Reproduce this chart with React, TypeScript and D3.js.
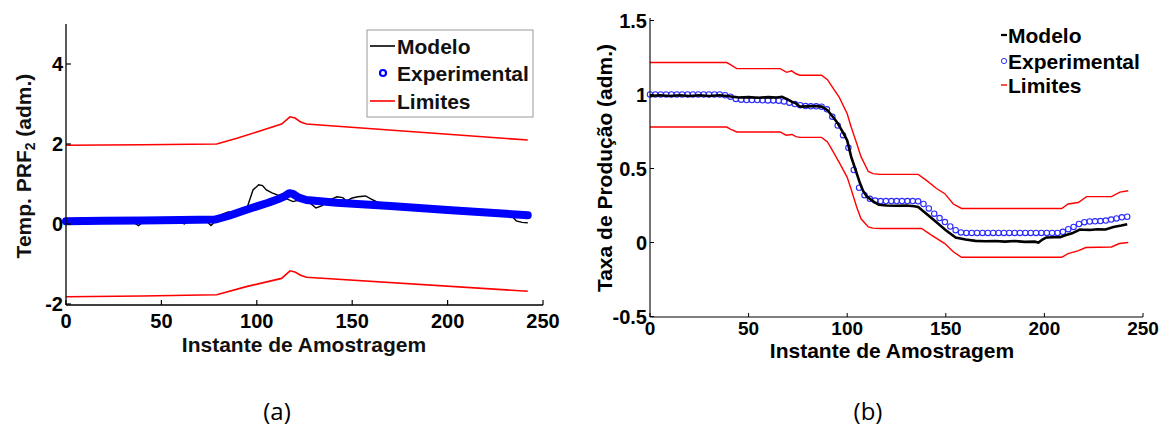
import React from "react";
import * as d3 from "d3";

// ---------- Panel (a) data: [instant, value] ----------
const modeloA: [number, number][] = [
  [0, 0.06], [5, 0.05], [10, 0.07], [15, 0.06], [20, 0.08], [25, 0.07], [30, 0.09], [35, 0.05],
  [38, -0.04], [41, 0.07], [45, 0.08], [50, 0.09], [55, 0.08], [58, 0.1], [62, 0.0], [65, 0.09],
  [70, 0.11], [73, 0.1], [76, -0.04], [79, 0.1], [82, 0.25], [85, 0.3], [88, 0.28], [92, 0.39],
  [95, 0.42], [98, 0.85], [101, 0.98], [103, 0.96], [105, 0.85], [108, 0.78], [111, 0.72],
  [113, 0.67], [116, 0.62], [119, 0.56], [122, 0.6], [125, 0.6], [128, 0.52], [131, 0.4],
  [134, 0.45], [138, 0.6], [142, 0.68], [145, 0.66], [147, 0.58], [150, 0.65], [153, 0.68],
  [157, 0.7], [160, 0.62], [163, 0.55], [168, 0.5], [175, 0.47], [185, 0.42], [195, 0.36],
  [200, 0.32], [205, 0.3], [209, 0.26], [212, 0.28], [217, 0.25], [220, 0.28], [225, 0.22],
  [230, 0.22], [234, 0.18], [236, 0.08], [239, 0.04], [242, 0.03],
];
const experimentalA: [number, number][] = [
  [0, 0.07], [20, 0.08], [40, 0.09], [60, 0.1], [78, 0.11], [85, 0.2], [93, 0.33], [100, 0.44],
  [106, 0.53], [111, 0.62], [114, 0.68], [117, 0.77], [119, 0.75], [122, 0.66], [126, 0.6],
  [142, 0.53], [170, 0.45], [200, 0.35], [242, 0.22],
];
const limiteSupA: [number, number][] = [
  [0, 1.97], [40, 1.98], [79, 2.0], [90, 2.15], [100, 2.3], [113, 2.5], [117.4, 2.68],
  [120, 2.65], [123, 2.55], [126, 2.5], [242, 2.1],
];
const limiteInfA: [number, number][] = [
  [0, -1.82], [40, -1.8], [79, -1.77], [95, -1.56], [113, -1.36], [117.4, -1.17],
  [120, -1.2], [123, -1.28], [126, -1.33], [242, -1.68],
];
const xTicksA = [0, 50, 100, 150, 200, 250];
const yTicksA = [-2, 0, 2, 4];

// ---------- Panel (b) data ----------
const modeloB: [number, number][] = [
  [0, 0.99], [5, 0.995], [10, 0.99], [15, 0.995], [20, 0.99], [25, 0.995], [30, 0.99], [35, 0.995],
  [39, 0.99], [42, 0.985], [45, 0.98], [50, 0.982], [55, 0.978], [60, 0.982], [64, 0.98],
  [67, 0.985], [70, 0.965], [72, 0.95], [74, 0.94], [76, 0.918], [80, 0.92], [84, 0.922],
  [87, 0.918], [90, 0.894], [93, 0.845], [95, 0.81], [98, 0.74], [100, 0.69], [102, 0.58],
  [104, 0.5], [106.5, 0.4], [108, 0.35], [110, 0.31], [113, 0.28], [116, 0.255], [120, 0.25],
  [125, 0.248], [130, 0.25], [134, 0.245], [136, 0.24], [140, 0.196], [145, 0.14], [150, 0.083],
  [155, 0.034], [160, 0.02], [165, 0.011], [170, 0.008], [175, 0.01], [180, 0.006], [185, 0.01],
  [190, 0.004], [195, 0.006], [197, 0.0], [199, 0.02], [201, 0.034], [205, 0.035], [208, 0.036],
  [211, 0.05], [214, 0.062], [218, 0.088], [220, 0.086], [223, 0.085], [227, 0.09], [231, 0.088],
  [235, 0.105], [239, 0.115], [242, 0.124],
];
// experimental samples (b), evenly spaced instants from 0 to 242
const experimentalB: number[] = [
  1.0, 1.0, 1.0, 1.0, 1.0, 1.0, 1.0, 1.0, 1.0, 1.0, 1.0, 1.0, 1.0, 1.0, 0.995, 0.985, 0.97,
  0.965, 0.963, 0.962, 0.962, 0.961, 0.96, 0.96, 0.958, 0.953, 0.945, 0.935, 0.928, 0.922,
  0.92, 0.92, 0.918, 0.9, 0.85, 0.79, 0.725, 0.64, 0.49, 0.37, 0.32, 0.295, 0.283, 0.28, 0.28,
  0.28, 0.28, 0.28, 0.28, 0.28, 0.278, 0.26, 0.23, 0.195, 0.165, 0.138, 0.108, 0.083, 0.068,
  0.065, 0.065, 0.065, 0.065, 0.065, 0.065, 0.065, 0.065, 0.065, 0.065, 0.065, 0.065, 0.065,
  0.065, 0.065, 0.065, 0.065, 0.065, 0.072, 0.09, 0.105, 0.125, 0.137, 0.142, 0.143, 0.145,
  0.148, 0.155, 0.163, 0.17, 0.174,
];
const lastInstantB = 242;
const limiteSupB: [number, number][] = [
  [0, 1.216], [38.9, 1.216], [41, 1.2], [44, 1.175], [66, 1.175], [69.3, 1.15], [71.8, 1.16],
  [74, 1.14], [76, 1.13], [87, 1.13], [90, 1.1], [93, 1.04], [96, 0.98], [100, 0.87], [102, 0.78],
  [104.8, 0.67], [107, 0.58], [110.7, 0.48], [113, 0.465], [116.6, 0.46], [136, 0.46],
  [140.2, 0.42], [145.3, 0.365], [149.5, 0.33], [153.8, 0.26], [158, 0.23], [208.8, 0.23],
  [212, 0.26], [217.2, 0.27], [221.4, 0.31], [234, 0.31], [238.3, 0.34], [242.5, 0.35],
];
const limiteInfB: [number, number][] = [
  [0, 0.78], [38.9, 0.78], [41, 0.765], [44, 0.747], [66, 0.747], [69, 0.725], [72, 0.73],
  [74, 0.715], [76, 0.71], [87, 0.71], [90, 0.68], [93, 0.61], [96, 0.54], [100, 0.44],
  [102, 0.36], [104.8, 0.24], [107, 0.16], [110.7, 0.105], [113, 0.097], [116.6, 0.095],
  [137.7, 0.095], [142.7, 0.05], [149.5, -0.007], [153.8, -0.063], [158, -0.1], [208.8, -0.1],
  [212, -0.075], [217, -0.057], [221, -0.034], [234, -0.03], [238, -0.007], [242.5, 0.0],
];
const xTicksB = [0, 50, 100, 150, 200, 250];
const yTicksB = [-0.5, 0, 0.5, 1, 1.5];

const legendLabels = ["Modelo", "Experimental", "Limites"];

const FONT = "'Liberation Sans', Arial, Helvetica, sans-serif";
const BLUE = "#0000ff";
const RED = "#ff0000";

export default function App() {
  // ----- scales (a)
  const xA = d3.scaleLinear().domain([0, 250]).range([66, 543]);
  const yA = d3.scaleLinear().domain([-2, 5]).range([304, 24]);
  const lineA = d3
    .line<[number, number]>()
    .x((d) => xA(d[0]))
    .y((d) => yA(d[1]));

  // ----- scales (b)
  const xB = d3.scaleLinear().domain([0, 250]).range([650, 1143]);
  const yB = d3.scaleLinear().domain([-0.5, 1.5]).range([316.5, 20.5]);
  const lineB = d3
    .line<[number, number]>()
    .x((d) => xB(d[0]))
    .y((d) => yB(d[1]));
  const stepB = lastInstantB / (experimentalB.length - 1);

  const axA = { x0: 66, y0: 305 };
  const axB = { x0: 650, y0: 317 };

  return (
    <svg
      width={1165}
      height={428}
      viewBox="0 0 1165 428"
      style={{ position: "absolute", left: 0, top: 0, background: "#fff" }}
      fontFamily={FONT}
    >
      <rect x={0} y={0} width={1165} height={428} fill="#fff" />

      {/* ================= Panel (a) ================= */}
      <g>
        <path d={lineA(limiteSupA) || ""} fill="none" stroke={RED} strokeWidth={1.6} />
        <path d={lineA(limiteInfA) || ""} fill="none" stroke={RED} strokeWidth={1.6} />
        <path d={lineA(modeloA) || ""} fill="none" stroke="#000" strokeWidth={1.4} />
        <path
          d={lineA(experimentalA) || ""}
          fill="none"
          stroke={BLUE}
          strokeWidth={8}
          strokeLinecap="round"
          strokeLinejoin="round"
        />
        {/* axes */}
        <line x1={axA.x0} x2={axA.x0} y1={24} y2={axA.y0} stroke="#000" strokeWidth={1.3} />
        <line x1={axA.x0} x2={543} y1={axA.y0} y2={axA.y0} stroke="#000" strokeWidth={1.3} />
        {yTicksA.map((t) => (
          <g key={"ya" + t}>
            <line x1={axA.x0} x2={axA.x0 + 5} y1={yA(t)} y2={yA(t)} stroke="#000" strokeWidth={1.2} />
            <text
              x={63}
              y={yA(t)}
              textAnchor="end"
              dominantBaseline="central"
              fontSize={20}
              fontWeight="bold"
            >
              {t}
            </text>
          </g>
        ))}
        {xTicksA.map((t) => (
          <g key={"xa" + t}>
            <line x1={xA(t)} x2={xA(t)} y1={axA.y0} y2={axA.y0 - 5} stroke="#000" strokeWidth={1.2} />
            <text
              x={xA(t)}
              y={321}
              textAnchor="middle"
              dominantBaseline="central"
              fontSize={20}
              fontWeight="bold"
            >
              {t}
            </text>
          </g>
        ))}
        <text
          x={304}
          y={344}
          textAnchor="middle"
          dominantBaseline="central"
          fontSize={21}
          fontWeight="bold"
          fill="#111"
        >
          Instante de Amostragem
        </text>
        <text
          transform="translate(23,166) rotate(-90)"
          textAnchor="middle"
          dominantBaseline="central"
          fontSize={21}
          fontWeight="bold"
          fill="#111"
        >
          Temp. PRF
          <tspan fontSize={14} dy={7}>
            2
          </tspan>
          <tspan dy={-7}> (adm.)</tspan>
        </text>
        {/* legend (a) */}
        <rect x={367} y={30} width={166} height={87} fill="#fff" stroke="#999" strokeWidth={1} />
        <line x1={370} x2={395} y1={46} y2={46} stroke="#000" strokeWidth={1.6} />
        <circle cx={383} cy={73} r={3} fill="none" stroke={BLUE} strokeWidth={2.2} />
        <line x1={370} x2={395} y1={101} y2={101} stroke={RED} strokeWidth={1.6} />
        {legendLabels.map((l, i) => (
          <text
            key={"la" + l}
            x={397}
            y={[46, 73, 101][i]}
            dominantBaseline="central"
            fontSize={21}
            fontWeight="bold"
            fill="#111"
          >
            {l}
          </text>
        ))}
        <text
          x={277}
          y={410}
          textAnchor="middle"
          dominantBaseline="central"
          fontSize={24}
          fontFamily="'Open Sans', Lato, sans-serif"
        >
          (a)
        </text>
      </g>

      {/* ================= Panel (b) ================= */}
      <g>
        <path d={lineB(limiteSupB) || ""} fill="none" stroke={RED} strokeWidth={1.4} />
        <path d={lineB(limiteInfB) || ""} fill="none" stroke={RED} strokeWidth={1.4} />
        {experimentalB.map((v, i) => (
          <circle
            key={"eb" + i}
            cx={xB(i * stepB)}
            cy={yB(v)}
            r={2.7}
            fill="none"
            stroke="#2a2aff"
            strokeWidth={1.1}
          />
        ))}
        <path d={lineB(modeloB) || ""} fill="none" stroke="#000" strokeWidth={2.6} />
        {/* axes */}
        <line x1={axB.x0} x2={axB.x0} y1={18} y2={axB.y0} stroke="#000" strokeWidth={1.1} />
        <line x1={axB.x0} x2={1143} y1={axB.y0} y2={axB.y0} stroke="#000" strokeWidth={1.1} />
        {yTicksB.map((t) => (
          <g key={"yb" + t}>
            <line x1={axB.x0} x2={axB.x0 + 4} y1={yB(t)} y2={yB(t)} stroke="#000" strokeWidth={1} />
            <text
              x={647}
              y={yB(t)}
              textAnchor="end"
              dominantBaseline="central"
              fontSize={20}
              fontWeight="bold"
            >
              {t}
            </text>
          </g>
        ))}
        {xTicksB.map((t) => (
          <g key={"xb" + t}>
            <line x1={xB(t)} x2={xB(t)} y1={axB.y0} y2={axB.y0 - 4} stroke="#000" strokeWidth={1} />
            <text
              x={xB(t)}
              y={328}
              textAnchor="middle"
              dominantBaseline="central"
              fontSize={19}
              fontWeight="bold"
            >
              {t}
            </text>
          </g>
        ))}
        <text
          x={892}
          y={350}
          textAnchor="middle"
          dominantBaseline="central"
          fontSize={21}
          fontWeight="bold"
        >
          Instante de Amostragem
        </text>
        <text
          transform="translate(604,168) rotate(-90)"
          textAnchor="middle"
          dominantBaseline="central"
          fontSize={21}
          fontWeight="bold"
        >
          Taxa de Produção (adm.)
        </text>
        {/* legend (b) */}
        <line x1={1001} x2={1007} y1={35} y2={35} stroke="#000" strokeWidth={2.2} />
        <circle cx={1004} cy={61} r={2.6} fill="none" stroke="#2a2aff" strokeWidth={1} />
        <line x1={1001} x2={1007} y1={85} y2={85} stroke={RED} strokeWidth={1.4} />
        {legendLabels.map((l, i) => (
          <text
            key={"lb" + l}
            x={1008}
            y={[35, 61, 85][i]}
            dominantBaseline="central"
            fontSize={21}
            fontWeight="bold"
          >
            {l}
          </text>
        ))}
        <text
          x={868}
          y={410}
          textAnchor="middle"
          dominantBaseline="central"
          fontSize={24}
          fontFamily="'Open Sans', Lato, sans-serif"
        >
          (b)
        </text>
      </g>
    </svg>
  );
}
